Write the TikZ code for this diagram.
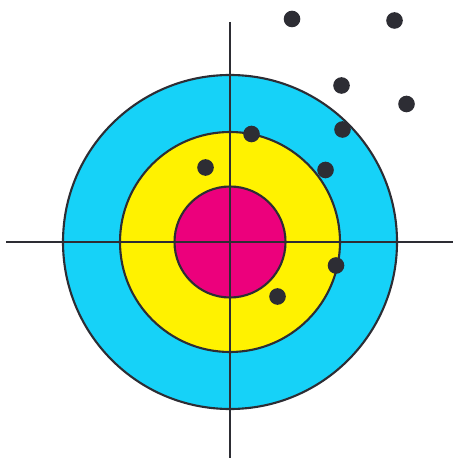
\documentclass[tikz,border=0pt]{standalone}
\usepackage{xcolor}
\usepackage{tikz}

\definecolor{ringcyan}{RGB}{22,210,248}
\definecolor{ringyellow}{RGB}{255,242,0}
\definecolor{ringmagenta}{RGB}{236,0,124}
\definecolor{inkgray}{RGB}{45,45,52}

\begin{document}
\begin{tikzpicture}[x=0.01cm, y=-0.01cm,
    ring/.style={draw=inkgray, line width=0.6pt},
    hair/.style={draw=inkgray, line width=0.6pt},
    shot/.style={circle, fill=inkgray, inner sep=0pt, minimum size=0.166cm}]
    \useasboundingbox (0,0) rectangle (453,458);
    \coordinate (c) at (230,242);
    % rings
    \filldraw[ring, fill=ringcyan] (c) circle (167);
    \filldraw[ring, fill=ringyellow] (c) circle (110);
    \filldraw[ring, fill=ringmagenta] (c) circle (55.5);
    % crosshair
    \coordinate (hl) at (6,242);
    \coordinate (hr) at (453,242);
    \coordinate (vt) at (230,22);
    \coordinate (vb) at (230,458);
    \draw[hair] (hl) -- (hr);
    \draw[hair] (vt) -- (vb);
    % shots
    \foreach \x/\y [count=\i] in {292/19, 394.5/20.5, 341.5/85.5, 406.5/104, 342.5/129.5,
                                  251.5/134, 205.5/167.5, 325.5/170, 336/265.5, 277.5/296.5} {
      \node[shot] (s\i) at (\x,\y) {};
    }
\end{tikzpicture}
\end{document}
